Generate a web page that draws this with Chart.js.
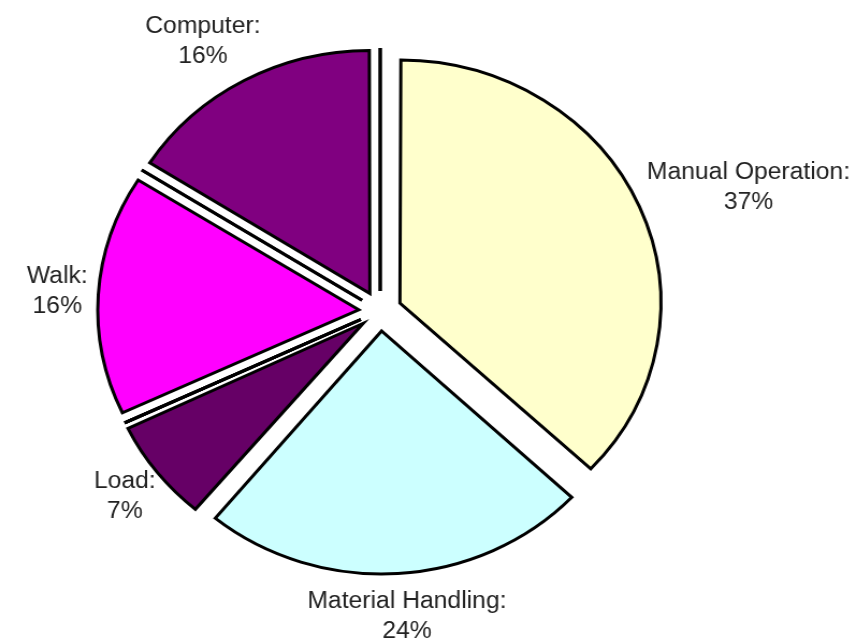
<!DOCTYPE html>
<html>
<head>
<meta charset="utf-8">
<script src="https://cdn.jsdelivr.net/npm/chart.js@4.4.1/dist/chart.umd.min.js"></script>
<style>
  html, body { margin: 0; padding: 0; background: #fff; overflow: hidden; }
  #wrap { width: 857px; height: 639px; overflow: hidden; }
  /* the source picture is stretched a little sideways */
  #pie { display: block; transform: scaleX(1.074); transform-origin: 0 0; }
</style>
</head>
<body>
<div id="wrap"><canvas id="pie" width="798" height="639"></canvas></div>
<script>
// Excel-style series: unnamed zero points keep their palette slot and still draw an edge
const categories = ['', '', 'Manual Operation', 'Material Handling', 'Load', '', '', '', '', 'Walk', '', '', 'Computer'];
const shares = [0, 0, 37, 24, 7, 0, 0, 0, 0, 16, 0, 0, 16];
const sliceColors = ['#9999FF', '#993366', '#FFFFCC', '#CCFFFF', '#660066', '#FF8080', '#0066CC',
                     '#CCCCFF', '#000080', '#FF00FF', '#FFFF00', '#00FFFF', '#800080'];

const EXPLODE = 80;    // Chart.js shifts each arc by offset / 4
const LABEL_GAP = 13;
const LINE_H = 30;

const clamp1 = v => Math.max(-1, Math.min(1, v));

const explodedPie = {
  id: 'explodedPie',
  afterDatasetUpdate(chart, args) {
    // Chart.js enlarges narrow offset arcs; keep one radius for every slice
    args.meta.data.forEach(arc => {
      if (!arc.circumference) return;
      const fix = 1 - Math.sin(Math.min(Math.PI, arc.circumference));
      arc.outerRadius -= (EXPLODE / 4) * fix;
    });
  },
  afterDatasetsDraw(chart) {
    const ctx = chart.ctx;
    const meta = chart.getDatasetMeta(0);
    const total = shares.reduce((a, b) => a + b, 0);
    const off = EXPLODE / 4;
    ctx.save();

    // zero-value points show up as a single exploded edge line
    ctx.strokeStyle = '#000';
    ctx.lineWidth = 3;
    meta.data.forEach((arc, i) => {
      if (shares[i] !== 0) return;
      const dx = Math.cos(arc.startAngle), dy = Math.sin(arc.startAngle);
      ctx.beginPath();
      ctx.moveTo(arc.x + dx * off, arc.y + dy * off);
      ctx.lineTo(arc.x + dx * (off + arc.outerRadius), arc.y + dy * (off + arc.outerRadius));
      ctx.stroke();
    });

    // "Name:" / "nn%" labels outside each slice
    ctx.font = '23px "Liberation Sans", Arial, sans-serif';
    ctx.fillStyle = '#222';
    ctx.textAlign = 'center';
    ctx.textBaseline = 'middle';
    meta.data.forEach((arc, i) => {
      if (!categories[i] || shares[i] === 0) return;
      const lines = [categories[i] + ':', Math.round(shares[i] / total * 100) + '%'];
      const mid = (arc.startAngle + arc.endAngle) / 2;
      const dx = Math.cos(mid), dy = Math.sin(mid);
      const w = Math.max(...lines.map(t => ctx.measureText(t).width));
      const h = LINE_H * 2;
      const dist = arc.outerRadius + off + LABEL_GAP;
      const cx = arc.x + dx * dist + clamp1(dx * 1.3) * w / 2;
      const cy = arc.y + dy * dist + clamp1(dy * 1.3) * h / 2;
      ctx.fillText(lines[0], cx, cy - LINE_H / 2);
      ctx.fillText(lines[1], cx, cy + LINE_H / 2);
    });
    ctx.restore();
  }
};

new Chart(document.getElementById('pie'), {
  type: 'pie',
  data: {
    labels: categories,
    datasets: [{
      data: shares,
      backgroundColor: sliceColors,
      borderColor: '#000',
      borderWidth: 3,
      borderJoinStyle: 'miter',
      offset: EXPLODE
    }]
  },
  options: {
    responsive: false,
    animation: false,
    events: [],
    radius: 243,
    layout: { padding: { left: 0, right: 90, top: 0, bottom: 17 } },
    plugins: {
      legend: { display: false },
      tooltip: { enabled: false }
    }
  },
  plugins: [explodedPie]
});
</script>
</body>
</html>
